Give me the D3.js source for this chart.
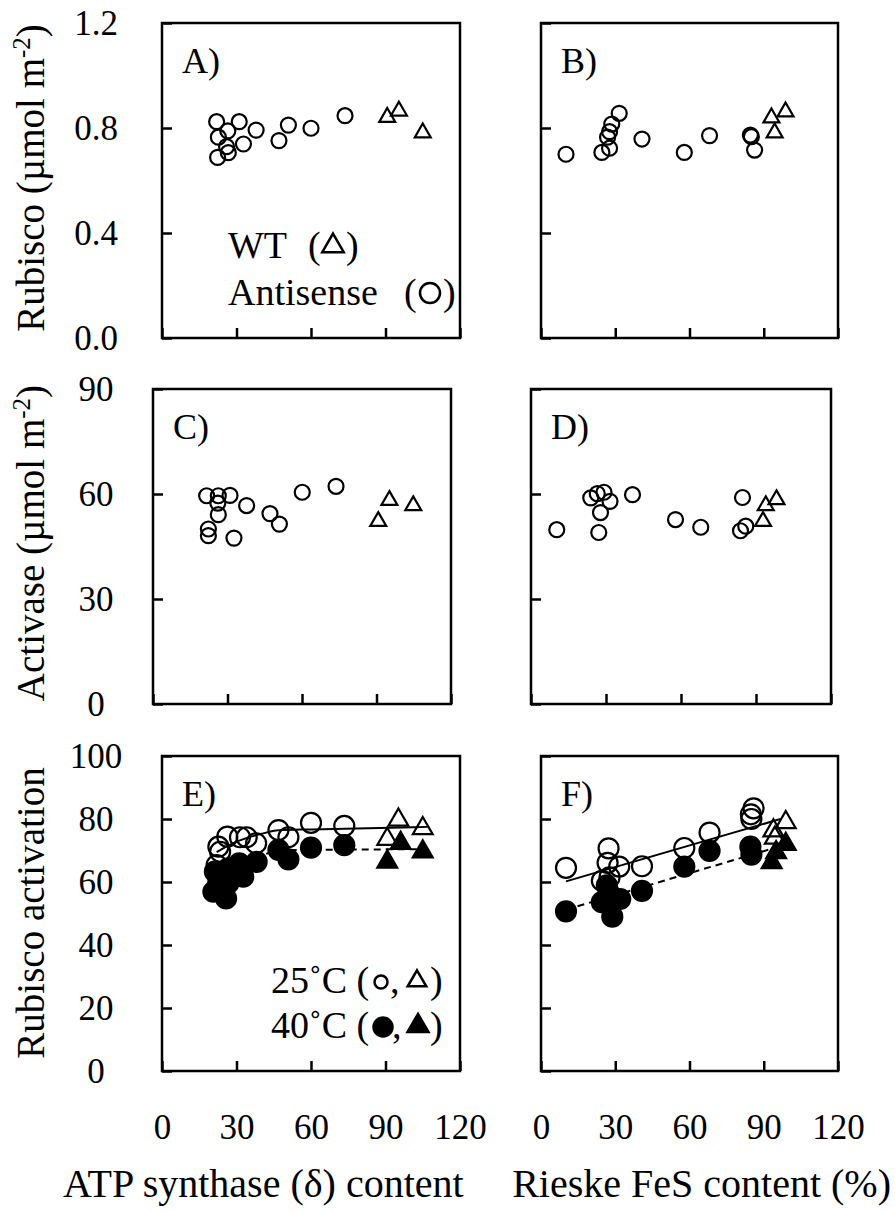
<!DOCTYPE html>
<html lang="en">
  <head>
    <meta charset="UTF-8" />
    <title>Rubisco panels</title>
    <style>
      body { margin: 0; background: #fff; }
      svg { font-family: 'Liberation Serif', 'Times New Roman', serif; }
    </style>
  </head>
  <body>
    <script src="https://d3js.org/d3.v7.min.js"></script>
    <script>
      const width = 895
      const height = 1212

      // x values: ATP synthase (delta) content, Rieske FeS content (%)
      // A) Rubisco vs ATP synthase
      const rubiscoAtpAnti = [[22.0, 0.824], [31.1, 0.824], [26.5, 0.789], [22.7, 0.765], [37.9, 0.792], [26.0, 0.729], [32.8, 0.739], [26.7, 0.706], [22.4, 0.688], [50.9, 0.811], [47.1, 0.752], [60.0, 0.799], [73.7, 0.847]]
      const rubiscoAtpWT = [[90.7, 0.841], [95.4, 0.865], [105.0, 0.782]]
      // B) Rubisco vs Rieske
      const rubiscoFesAnti = [[10.1, 0.700], [24.6, 0.707], [27.7, 0.723], [26.9, 0.765], [27.7, 0.786], [28.6, 0.815], [31.6, 0.856], [40.8, 0.758], [57.9, 0.707], [68.1, 0.771], [84.6, 0.773], [85.0, 0.767], [86.3, 0.716]]
      const rubiscoFesWT = [[93.1, 0.839], [98.8, 0.862], [94.4, 0.782]]
      // C) Activase vs ATP synthase
      const activaseAtpAnti = [[21.6, 59.5], [26.3, 59.5], [31.0, 59.6], [26.1, 57.4], [26.3, 54.1], [37.7, 56.7], [22.3, 50.0], [22.3, 48.1], [32.6, 47.4], [47.1, 54.4], [50.9, 51.4], [60.1, 60.5], [73.7, 62.2]]
      const activaseAtpWT = [[95.2, 58.2], [104.8, 56.7], [90.7, 52.2]]
      // D) Activase vs Rieske
      const activaseFesAnti = [[10.3, 49.8], [23.9, 58.9], [26.5, 60.1], [29.2, 60.5], [31.6, 57.9], [27.8, 54.7], [27.1, 49.0], [40.6, 59.8], [57.8, 52.7], [67.9, 50.5], [84.6, 59.0], [85.9, 50.8], [83.8, 49.5]]
      const activaseFesWT = [[93.9, 56.7], [98.2, 58.4], [92.8, 52.2]]
      // E) Rubisco activation vs ATP synthase
      const actAtpAnti25 = [[22.0, 65.4], [22.7, 71.2], [23.4, 69.6], [26.3, 74.4], [31.4, 74.2], [34.1, 74.2], [37.9, 72.3], [46.9, 76.5], [50.9, 74.2], [60.0, 78.8], [73.4, 77.8]]
      const actAtpWT25 = [[95.2, 79.7], [105.0, 77.0], [90.7, 73.6]]
      const actAtpAnti40 = [[21.3, 63.3], [20.7, 56.9], [22.7, 60.1], [25.8, 54.8], [26.7, 59.6], [26.7, 64.3], [31.1, 65.9], [32.7, 61.7], [38.1, 66.4], [46.9, 70.2], [50.9, 67.2], [60.0, 70.9], [73.4, 71.7]]
      const actAtpWT40 = [[90.7, 66.4], [96.1, 72.3], [105.0, 69.6]]
      const fitAtp25 = [[22, 69.5], [30, 72.8], [40, 75.3], [47, 76.4], [60, 76.7], [107, 77.5]]
      const fitAtp40 = [[22, 58.5], [30, 64.0], [40, 68.3], [47, 70.0], [60, 70.2], [107, 70.4]]
      // F) Rubisco activation vs Rieske
      const actFesAnti25 = [[10.1, 64.5], [27.3, 70.7], [26.9, 66.1], [31.6, 64.9], [24.6, 60.4], [27.7, 61.5], [40.8, 65.0], [57.9, 70.8], [68.1, 75.7], [85.9, 83.4], [84.8, 81.5], [85.0, 80.0]]
      const actFesWT25 = [[98.9, 78.9], [93.9, 76.3], [94.5, 74.0]]
      const actFesAnti40 = [[10.1, 50.7], [24.6, 53.6], [26.6, 58.9], [27.7, 56.2], [32.0, 54.6], [28.8, 49.0], [40.8, 57.2], [57.9, 64.9], [68.1, 69.9], [84.6, 71.2], [85.0, 68.7]]
      const actFesWT40 = [[98.9, 72.0], [95.0, 69.4], [93.2, 66.2]]
      const fitFes25 = [[10.1, 60.2], [96.7, 80.0]]
      const fitFes40 = [[10.1, 51.2], [95.2, 71.0]]

      const xTicks = [0, 30, 60, 90, 120]
      const rubiscoTicks = [0, 0.4, 0.8, 1.2]
      const activaseTicks = [0, 30, 60, 90]
      const activationTicks = [0, 20, 40, 60, 80, 100]

      let svg = d3.select('body').append('svg')
      svg.attr('width', width).attr('height', height)

      const panels = [
        { id: 'A)', left: 162, right: 460, top: 23, bottom: 338, yMax: 1.2, yTicks: rubiscoTicks, fmt: d3.format('.1f'), yLabels: true, xLabels: false, big: false,
          sets: [{ d: rubiscoAtpAnti, s: 'circle' }, { d: rubiscoAtpWT, s: 'tri' }] },
        { id: 'B)', left: 541, right: 838, top: 23, bottom: 338, yMax: 1.2, yTicks: rubiscoTicks, yLabels: false, xLabels: false, big: false,
          sets: [{ d: rubiscoFesAnti, s: 'circle' }, { d: rubiscoFesWT, s: 'tri' }] },
        { id: 'C)', left: 153, right: 451, top: 389, bottom: 704, yMax: 90, yTicks: activaseTicks, fmt: d3.format('d'), yLabels: true, xLabels: false, big: false,
          sets: [{ d: activaseAtpAnti, s: 'circle' }, { d: activaseAtpWT, s: 'tri' }] },
        { id: 'D)', left: 531, right: 831, top: 389, bottom: 704, yMax: 90, yTicks: activaseTicks, yLabels: false, xLabels: false, big: false,
          sets: [{ d: activaseFesAnti, s: 'circle' }, { d: activaseFesWT, s: 'tri' }] },
        { id: 'E)', left: 162, right: 460, top: 756, bottom: 1071, yMax: 100, yTicks: activationTicks, fmt: d3.format('d'), yLabels: true, xLabels: true, big: true,
          fits: [{ d: fitAtp25, dash: null }, { d: fitAtp40, dash: '7,5' }],
          sets: [{ d: actAtpAnti25, s: 'circle' }, { d: actAtpWT25, s: 'tri' }, { d: actAtpAnti40, s: 'circle', fill: true }, { d: actAtpWT40, s: 'tri', fill: true }] },
        { id: 'F)', left: 541, right: 838, top: 756, bottom: 1071, yMax: 100, yTicks: activationTicks, yLabels: false, xLabels: true, big: true,
          fits: [{ d: fitFes25, dash: null }, { d: fitFes40, dash: '7,5' }],
          sets: [{ d: actFesAnti25, s: 'circle' }, { d: actFesWT25, s: 'tri' }, { d: actFesAnti40, s: 'circle', fill: true }, { d: actFesWT40, s: 'tri', fill: true }] }
      ]

      const labelX = 96

      panels.forEach(p => {
        const x = d3.scaleLinear().domain([0, 120]).range([p.left, p.right])
        const y = d3.scaleLinear().domain([0, p.yMax]).range([p.bottom, p.top])
        const g = svg.append('g')

        // x axis, ticks pointing inward
        const xg = g.append('g')
          .attr('transform', `translate(0,${p.bottom})`)
          .call(d3.axisBottom(x).tickValues(xTicks).tickSize(-10).tickSizeOuter(0))
        xg.select('.domain').remove()
        xg.selectAll('line').attr('stroke', '#000').attr('stroke-width', 2.5)
        if (p.xLabels) {
          xg.selectAll('text').attr('y', 56).attr('dy', '0.35em')
            .attr('font-size', 35).attr('font-family', 'Liberation Serif').attr('fill', '#000')
        } else {
          xg.selectAll('text').remove()
        }

        const yg = g.append('g')
          .attr('transform', `translate(${p.left},0)`)
          .call(d3.axisLeft(y).tickValues(p.yTicks).tickSize(-10).tickSizeOuter(0).tickFormat(p.fmt || null))
        yg.select('.domain').remove()
        yg.selectAll('line').attr('stroke', '#000').attr('stroke-width', 2.5)
        if (p.yLabels) {
          yg.selectAll('text').attr('x', labelX - p.left).attr('text-anchor', 'middle')
            .attr('font-size', 35).attr('font-family', 'Liberation Serif').attr('fill', '#000')
        } else {
          yg.selectAll('text').remove()
        }

        g.append('rect')
          .attr('x', p.left).attr('y', p.top)
          .attr('width', p.right - p.left).attr('height', p.bottom - p.top)
          .attr('fill', 'none').attr('stroke', '#000').attr('stroke-width', 2.5)

        g.append('text')
          .attr('x', p.left + 20).attr('y', p.top + 50)
          .attr('font-size', 36).text(p.id)

        if (p.fits) {
          const line = d3.line().x(d => x(d[0])).y(d => y(d[1])).curve(d3.curveMonotoneX)
          p.fits.forEach(f => {
            g.append('path').attr('d', line(f.d))
              .attr('fill', 'none').attr('stroke', '#000').attr('stroke-width', 2)
              .attr('stroke-dasharray', f.dash)
          })
        }

        const r = p.big ? 10 : 7.5
        const tri = d3.symbol().type(d3.symbolTriangle).size(p.big ? 170 : 110)
        p.sets.forEach(set => {
          if (set.s === 'circle') {
            g.selectAll(null).data(set.d).enter().append('circle')
              .attr('cx', d => x(d[0])).attr('cy', d => y(d[1])).attr('r', r)
              .attr('fill', set.fill ? '#000' : 'none')
              .attr('stroke', '#000').attr('stroke-width', 2.2)
          } else {
            g.selectAll(null).data(set.d).enter().append('path')
              .attr('d', tri)
              .attr('transform', d => `translate(${x(d[0])},${y(d[1])})`)
              .attr('fill', set.fill ? '#000' : 'none')
              .attr('stroke', '#000').attr('stroke-width', 2.2)
          }
        })
      })

      // legends: text with drawn symbols
      const leg = svg.append('g').attr('font-size', 38)
      const legTri = size => d3.symbol().type(d3.symbolTriangle).size(size)
      const legMark = (kind, cx, cy, fill, size) => {
        if (kind === 'circle') {
          leg.append('circle').attr('cx', cx).attr('cy', cy).attr('r', size)
            .attr('fill', fill ? '#000' : 'none').attr('stroke', '#000').attr('stroke-width', 2.5)
        } else {
          leg.append('path').attr('d', legTri(size)).attr('transform', `translate(${cx},${cy})`)
            .attr('fill', fill ? '#000' : 'none').attr('stroke', '#000').attr('stroke-width', 2.5)
        }
      }
      leg.append('text').attr('x', 228).attr('y', 258).text('WT')
      leg.append('text').attr('x', 308).attr('y', 258).text('(')
      legMark('tri', 333, 246, false, 200)
      leg.append('text').attr('x', 346).attr('y', 258).text(')')
      leg.append('text').attr('x', 228).attr('y', 305).text('Antisense')
      leg.append('text').attr('x', 404).attr('y', 305).text('(')
      legMark('circle', 430, 293, false, 10)
      leg.append('text').attr('x', 443).attr('y', 305).text(')')

      leg.append('text').attr('x', 271).attr('y', 993).text('25˚C (')
      legMark('circle', 381, 982, false, 6.5)
      leg.append('text').attr('x', 390).attr('y', 993).text(',')
      legMark('tri', 417, 981, false, 150)
      leg.append('text').attr('x', 430).attr('y', 993).text(')')
      leg.append('text').attr('x', 271).attr('y', 1038).text('40˚C (')
      legMark('circle', 383, 1027, true, 9.5)
      leg.append('text').attr('x', 392).attr('y', 1038).text(',')
      legMark('tri', 418, 1026, true, 190)
      leg.append('text').attr('x', 430).attr('y', 1038).text(')')

      // axis titles
      const yTitle = (cy, main, sup) => {
        const t = svg.append('text')
          .attr('transform', `translate(44,${cy}) rotate(-90)`)
          .attr('text-anchor', 'middle').attr('font-size', 39)
        t.append('tspan').text(main)
        if (sup) {
          t.append('tspan').attr('dy', -14).attr('font-size', 25).text(sup)
          t.append('tspan').attr('dy', 14).text(')')
        }
      }
      yTitle(178, 'Rubisco (µmol m', '-2')
      yTitle(543, 'Activase (µmol m', '-2')
      yTitle(913, 'Rubisco activation')

      svg.append('text').attr('x', 63).attr('y', 1197).attr('font-size', 40)
        .text('ATP synthase (δ) content')
      svg.append('text').attr('x', 891).attr('y', 1197).attr('font-size', 40)
        .attr('text-anchor', 'end').text('Rieske FeS content (%)')
    </script>
  </body>
</html>
